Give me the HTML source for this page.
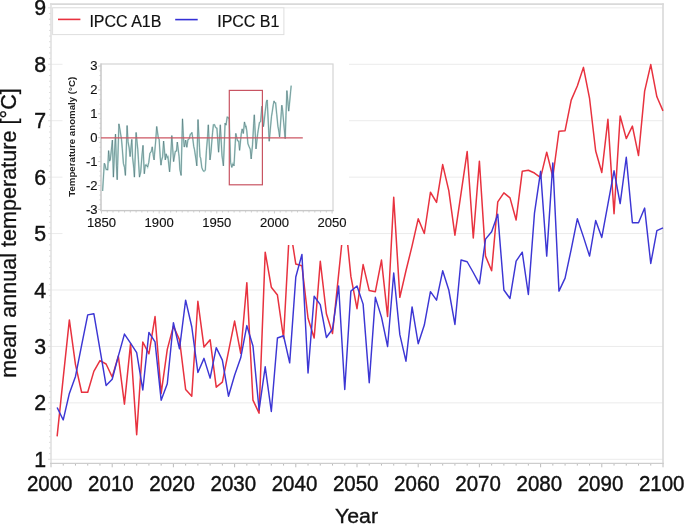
<!DOCTYPE html>
<html><head><meta charset="utf-8"><style>
html,body{margin:0;padding:0;background:#fff;}
body{width:685px;height:524px;overflow:hidden;}
svg{display:block;filter:blur(0.35px);font-family:"Liberation Sans",sans-serif;}
</style></head><body>
<svg width="685" height="524" viewBox="0 0 685 524">
<rect width="685" height="524" fill="#fff"/>
<g stroke="#ebebeb" stroke-width="1"><line x1="51" y1="459.29" x2="663" y2="459.29"/><line x1="51" y1="402.86" x2="663" y2="402.86"/><line x1="51" y1="346.43" x2="663" y2="346.43"/><line x1="51" y1="290" x2="663" y2="290"/><line x1="51" y1="233.57" x2="663" y2="233.57"/><line x1="51" y1="177.14" x2="663" y2="177.14"/><line x1="51" y1="120.71" x2="663" y2="120.71"/><line x1="51" y1="64.28" x2="663" y2="64.28"/><line x1="51" y1="7.85" x2="663" y2="7.85"/></g>
<g stroke="#cfcfcf" stroke-width="0.7"><line x1="48" y1="459.29" x2="51" y2="459.29"/><line x1="49" y1="453.65" x2="51" y2="453.65"/><line x1="49" y1="448" x2="51" y2="448"/><line x1="49" y1="442.36" x2="51" y2="442.36"/><line x1="49" y1="436.72" x2="51" y2="436.72"/><line x1="49" y1="431.08" x2="51" y2="431.08"/><line x1="49" y1="425.43" x2="51" y2="425.43"/><line x1="49" y1="419.79" x2="51" y2="419.79"/><line x1="49" y1="414.15" x2="51" y2="414.15"/><line x1="49" y1="408.5" x2="51" y2="408.5"/><line x1="48" y1="402.86" x2="51" y2="402.86"/><line x1="49" y1="397.22" x2="51" y2="397.22"/><line x1="49" y1="391.57" x2="51" y2="391.57"/><line x1="49" y1="385.93" x2="51" y2="385.93"/><line x1="49" y1="380.29" x2="51" y2="380.29"/><line x1="49" y1="374.65" x2="51" y2="374.65"/><line x1="49" y1="369" x2="51" y2="369"/><line x1="49" y1="363.36" x2="51" y2="363.36"/><line x1="49" y1="357.72" x2="51" y2="357.72"/><line x1="49" y1="352.07" x2="51" y2="352.07"/><line x1="48" y1="346.43" x2="51" y2="346.43"/><line x1="49" y1="340.79" x2="51" y2="340.79"/><line x1="49" y1="335.14" x2="51" y2="335.14"/><line x1="49" y1="329.5" x2="51" y2="329.5"/><line x1="49" y1="323.86" x2="51" y2="323.86"/><line x1="49" y1="318.22" x2="51" y2="318.22"/><line x1="49" y1="312.57" x2="51" y2="312.57"/><line x1="49" y1="306.93" x2="51" y2="306.93"/><line x1="49" y1="301.29" x2="51" y2="301.29"/><line x1="49" y1="295.64" x2="51" y2="295.64"/><line x1="48" y1="290" x2="51" y2="290"/><line x1="49" y1="284.36" x2="51" y2="284.36"/><line x1="49" y1="278.71" x2="51" y2="278.71"/><line x1="49" y1="273.07" x2="51" y2="273.07"/><line x1="49" y1="267.43" x2="51" y2="267.43"/><line x1="49" y1="261.79" x2="51" y2="261.79"/><line x1="49" y1="256.14" x2="51" y2="256.14"/><line x1="49" y1="250.5" x2="51" y2="250.5"/><line x1="49" y1="244.86" x2="51" y2="244.86"/><line x1="49" y1="239.21" x2="51" y2="239.21"/><line x1="48" y1="233.57" x2="51" y2="233.57"/><line x1="49" y1="227.93" x2="51" y2="227.93"/><line x1="49" y1="222.28" x2="51" y2="222.28"/><line x1="49" y1="216.64" x2="51" y2="216.64"/><line x1="49" y1="211" x2="51" y2="211"/><line x1="49" y1="205.35" x2="51" y2="205.35"/><line x1="49" y1="199.71" x2="51" y2="199.71"/><line x1="49" y1="194.07" x2="51" y2="194.07"/><line x1="49" y1="188.43" x2="51" y2="188.43"/><line x1="49" y1="182.78" x2="51" y2="182.78"/><line x1="48" y1="177.14" x2="51" y2="177.14"/><line x1="49" y1="171.5" x2="51" y2="171.5"/><line x1="49" y1="165.85" x2="51" y2="165.85"/><line x1="49" y1="160.21" x2="51" y2="160.21"/><line x1="49" y1="154.57" x2="51" y2="154.57"/><line x1="49" y1="148.92" x2="51" y2="148.92"/><line x1="49" y1="143.28" x2="51" y2="143.28"/><line x1="49" y1="137.64" x2="51" y2="137.64"/><line x1="49" y1="132" x2="51" y2="132"/><line x1="49" y1="126.35" x2="51" y2="126.35"/><line x1="48" y1="120.71" x2="51" y2="120.71"/><line x1="49" y1="115.07" x2="51" y2="115.07"/><line x1="49" y1="109.42" x2="51" y2="109.42"/><line x1="49" y1="103.78" x2="51" y2="103.78"/><line x1="49" y1="98.14" x2="51" y2="98.14"/><line x1="49" y1="92.49" x2="51" y2="92.49"/><line x1="49" y1="86.85" x2="51" y2="86.85"/><line x1="49" y1="81.21" x2="51" y2="81.21"/><line x1="49" y1="75.57" x2="51" y2="75.57"/><line x1="49" y1="69.92" x2="51" y2="69.92"/><line x1="48" y1="64.28" x2="51" y2="64.28"/><line x1="49" y1="58.64" x2="51" y2="58.64"/><line x1="49" y1="52.99" x2="51" y2="52.99"/><line x1="49" y1="47.35" x2="51" y2="47.35"/><line x1="49" y1="41.71" x2="51" y2="41.71"/><line x1="49" y1="36.06" x2="51" y2="36.06"/><line x1="49" y1="30.42" x2="51" y2="30.42"/><line x1="49" y1="24.78" x2="51" y2="24.78"/><line x1="49" y1="19.14" x2="51" y2="19.14"/><line x1="49" y1="13.49" x2="51" y2="13.49"/><line x1="48" y1="7.85" x2="51" y2="7.85"/></g>
<g stroke="#b4b4b4" stroke-width="0.9"><line x1="51" y1="463" x2="51" y2="467.3"/><line x1="63.24" y1="463" x2="63.24" y2="465.6"/><line x1="75.48" y1="463" x2="75.48" y2="465.6"/><line x1="87.72" y1="463" x2="87.72" y2="465.6"/><line x1="99.96" y1="463" x2="99.96" y2="465.6"/><line x1="112.2" y1="463" x2="112.2" y2="467.3"/><line x1="124.44" y1="463" x2="124.44" y2="465.6"/><line x1="136.68" y1="463" x2="136.68" y2="465.6"/><line x1="148.92" y1="463" x2="148.92" y2="465.6"/><line x1="161.16" y1="463" x2="161.16" y2="465.6"/><line x1="173.4" y1="463" x2="173.4" y2="467.3"/><line x1="185.64" y1="463" x2="185.64" y2="465.6"/><line x1="197.88" y1="463" x2="197.88" y2="465.6"/><line x1="210.12" y1="463" x2="210.12" y2="465.6"/><line x1="222.36" y1="463" x2="222.36" y2="465.6"/><line x1="234.6" y1="463" x2="234.6" y2="467.3"/><line x1="246.84" y1="463" x2="246.84" y2="465.6"/><line x1="259.08" y1="463" x2="259.08" y2="465.6"/><line x1="271.32" y1="463" x2="271.32" y2="465.6"/><line x1="283.56" y1="463" x2="283.56" y2="465.6"/><line x1="295.8" y1="463" x2="295.8" y2="467.3"/><line x1="308.04" y1="463" x2="308.04" y2="465.6"/><line x1="320.28" y1="463" x2="320.28" y2="465.6"/><line x1="332.52" y1="463" x2="332.52" y2="465.6"/><line x1="344.76" y1="463" x2="344.76" y2="465.6"/><line x1="357" y1="463" x2="357" y2="467.3"/><line x1="369.24" y1="463" x2="369.24" y2="465.6"/><line x1="381.48" y1="463" x2="381.48" y2="465.6"/><line x1="393.72" y1="463" x2="393.72" y2="465.6"/><line x1="405.96" y1="463" x2="405.96" y2="465.6"/><line x1="418.2" y1="463" x2="418.2" y2="467.3"/><line x1="430.44" y1="463" x2="430.44" y2="465.6"/><line x1="442.68" y1="463" x2="442.68" y2="465.6"/><line x1="454.92" y1="463" x2="454.92" y2="465.6"/><line x1="467.16" y1="463" x2="467.16" y2="465.6"/><line x1="479.4" y1="463" x2="479.4" y2="467.3"/><line x1="491.64" y1="463" x2="491.64" y2="465.6"/><line x1="503.88" y1="463" x2="503.88" y2="465.6"/><line x1="516.12" y1="463" x2="516.12" y2="465.6"/><line x1="528.36" y1="463" x2="528.36" y2="465.6"/><line x1="540.6" y1="463" x2="540.6" y2="467.3"/><line x1="552.84" y1="463" x2="552.84" y2="465.6"/><line x1="565.08" y1="463" x2="565.08" y2="465.6"/><line x1="577.32" y1="463" x2="577.32" y2="465.6"/><line x1="589.56" y1="463" x2="589.56" y2="465.6"/><line x1="601.8" y1="463" x2="601.8" y2="467.3"/><line x1="614.04" y1="463" x2="614.04" y2="465.6"/><line x1="626.28" y1="463" x2="626.28" y2="465.6"/><line x1="638.52" y1="463" x2="638.52" y2="465.6"/><line x1="650.76" y1="463" x2="650.76" y2="465.6"/><line x1="663" y1="463" x2="663" y2="467.3"/></g>
<g fill="none">
<line x1="50" y1="4.1" x2="663.8" y2="4.1" stroke="#d9d9d9" stroke-width="1.6"/>
<line x1="663" y1="3.3" x2="663" y2="463" stroke="#d9d9d9" stroke-width="1.6"/>
<line x1="51" y1="3.3" x2="51" y2="466" stroke="#dedede" stroke-width="1.5"/>
<line x1="50" y1="463.4" x2="663.8" y2="463.4" stroke="#cdcdcd" stroke-width="1.1"/>
</g>
<polyline fill="none" stroke="#e8323f" stroke-width="1.5" stroke-linejoin="round" points="57.12,436.33 63.24,377.57 69.36,319.94 75.48,364.58 81.6,392.27 87.72,392.27 93.84,371.36 99.96,360.62 106.08,364.02 112.2,377.01 118.32,356.11 124.44,404.13 130.56,343.68 136.68,434.64 142.8,341.98 148.92,353.84 155.04,316.56 161.16,393.39 167.28,349.32 173.4,326.16 179.52,339.72 185.64,389.44 191.76,396.22 197.88,301.3 204,347.06 210.12,339.72 216.24,387.18 222.36,382.09 228.48,351.58 234.6,321.07 240.72,353.28 246.84,282.66 252.96,400.18 259.08,413.17 265.2,252.15 271.32,287.18 277.44,295.08 283.56,338.02 289.68,225.02 295.8,264.01 301.92,265.71 308.04,318.25 314.16,338.02 320.28,261.19 326.4,313.73 332.52,333.5 338.64,274.18 344.76,214.85 350.88,276.44 357,308.64 363.12,264.57 369.24,290.56 375.36,291.69 381.48,260.05 387.6,316.56 393.72,197.34 399.84,297.34 405.96,270.79 412.08,245.93 418.2,218.81 424.32,233.5 430.44,192.25 436.56,202.43 442.68,164.57 448.8,190.56 454.92,235.2 461.04,193.38 467.16,151.57 473.28,238.02 479.4,161.18 485.52,256.1 491.64,270.79 497.76,201.86 503.88,192.82 510,197.91 516.12,219.94 522.24,171.35 528.36,170.22 534.48,173.04 540.6,177.56 546.72,152.14 552.84,177 558.96,131.24 565.08,130.67 571.2,100.16 577.32,86.03 583.44,67.39 589.56,98.47 595.68,151.01 601.8,172.48 607.92,119.37 614.04,213.73 620.16,115.98 626.28,138.58 632.4,126.15 638.52,155.53 644.64,91.12 650.76,64.56 656.88,96.77 663,110.9"/>
<polyline fill="none" stroke="#3c36d4" stroke-width="1.45" stroke-linejoin="round" points="57.12,407.52 63.24,419.95 69.36,393.39 75.48,376.44 81.6,345.37 87.72,314.86 93.84,313.73 99.96,349.32 106.08,385.48 112.2,379.27 118.32,356.11 124.44,334.07 130.56,343.11 136.68,352.71 142.8,390 148.92,332.38 155.04,341.98 161.16,400.18 167.28,383.79 173.4,322.77 179.52,348.76 185.64,300.17 191.76,326.73 197.88,372.49 204,358.37 210.12,378.14 216.24,347.63 222.36,360.06 228.48,396.22 234.6,375.31 240.72,357.8 246.84,325.59 252.96,345.94 259.08,409.78 265.2,366.84 271.32,411.48 277.44,338.02 283.56,335.77 289.68,362.88 295.8,277 301.92,254.41 308.04,373.06 314.16,296.21 320.28,304.69 326.4,337.46 332.52,328.98 338.64,286.04 344.76,389.44 350.88,291.13 357,286.04 363.12,304.12 369.24,382.66 375.36,297.34 381.48,317.12 387.6,346.5 393.72,273.05 399.84,334.63 405.96,361.19 412.08,306.95 418.2,343.68 424.32,325.03 430.44,291.69 436.56,300.17 442.68,270.79 448.8,290 454.92,324.46 461.04,260.05 467.16,261.75 473.28,272.49 479.4,283.78 485.52,239.15 491.64,231.8 497.76,214.29 503.88,290 510,298.48 516.12,261.19 522.24,252.15 528.36,294.52 534.48,213.16 540.6,171.35 546.72,256.1 552.84,162.88 558.96,291.13 565.08,278.13 571.2,249.32 577.32,218.81 583.44,236.89 589.56,256.1 595.68,220.5 601.8,237.46 607.92,204.12 614.04,170.78 620.16,203.55 626.28,157.23 632.4,222.76 638.52,222.76 644.64,208.07 650.76,263.45 656.88,230.68 663,227.85"/>
<g font-size="20.5" fill="#111" stroke="#111" stroke-width="0.4"><text transform="translate(46.2,466.79) scale(1.04,1.06)" text-anchor="end">1</text><text transform="translate(46.2,410.36) scale(1.04,1.06)" text-anchor="end">2</text><text transform="translate(46.2,353.93) scale(1.04,1.06)" text-anchor="end">3</text><text transform="translate(46.2,297.5) scale(1.04,1.06)" text-anchor="end">4</text><text transform="translate(46.2,241.07) scale(1.04,1.06)" text-anchor="end">5</text><text transform="translate(46.2,184.64) scale(1.04,1.06)" text-anchor="end">6</text><text transform="translate(46.2,128.21) scale(1.04,1.06)" text-anchor="end">7</text><text transform="translate(46.2,71.78) scale(1.04,1.06)" text-anchor="end">8</text><text transform="translate(46.2,15.35) scale(1.04,1.06)" text-anchor="end">9</text><text transform="translate(49.7,490.6) scale(1,1.05)" text-anchor="middle">2000</text><text transform="translate(110.9,490.6) scale(1,1.05)" text-anchor="middle">2010</text><text transform="translate(172.1,490.6) scale(1,1.05)" text-anchor="middle">2020</text><text transform="translate(233.3,490.6) scale(1,1.05)" text-anchor="middle">2030</text><text transform="translate(294.5,490.6) scale(1,1.05)" text-anchor="middle">2040</text><text transform="translate(355.7,490.6) scale(1,1.05)" text-anchor="middle">2050</text><text transform="translate(416.9,490.6) scale(1,1.05)" text-anchor="middle">2060</text><text transform="translate(478.1,490.6) scale(1,1.05)" text-anchor="middle">2070</text><text transform="translate(539.3,490.6) scale(1,1.05)" text-anchor="middle">2080</text><text transform="translate(600.5,490.6) scale(1,1.05)" text-anchor="middle">2090</text><text transform="translate(661.7,490.6) scale(1,1.05)" text-anchor="middle">2100</text></g>
<text transform="translate(356.5,523.3) scale(1.04,1.03)" font-size="20.5" text-anchor="middle" fill="#111" stroke="#111" stroke-width="0.35">Year</text>
<text transform="translate(16.3,233) rotate(-90)" font-size="21.6" text-anchor="middle" fill="#111" stroke="#111" stroke-width="0.3">mean annual temperature [°C]</text>
<!-- inset -->
<rect x="62.5" y="40" width="286.5" height="205" fill="#fff"/>
<rect x="101" y="64" width="232" height="146.5" fill="none" stroke="#d4d4d4" stroke-width="1.2"/>
<g stroke="#c4c4c4" stroke-width="0.8"><line x1="98" y1="209.4" x2="101" y2="209.4"/><line x1="99.5" y1="204.62" x2="101" y2="204.62"/><line x1="99.5" y1="199.84" x2="101" y2="199.84"/><line x1="99.5" y1="195.06" x2="101" y2="195.06"/><line x1="99.5" y1="190.28" x2="101" y2="190.28"/><line x1="98" y1="185.5" x2="101" y2="185.5"/><line x1="99.5" y1="180.72" x2="101" y2="180.72"/><line x1="99.5" y1="175.94" x2="101" y2="175.94"/><line x1="99.5" y1="171.16" x2="101" y2="171.16"/><line x1="99.5" y1="166.38" x2="101" y2="166.38"/><line x1="98" y1="161.6" x2="101" y2="161.6"/><line x1="99.5" y1="156.82" x2="101" y2="156.82"/><line x1="99.5" y1="152.04" x2="101" y2="152.04"/><line x1="99.5" y1="147.26" x2="101" y2="147.26"/><line x1="99.5" y1="142.48" x2="101" y2="142.48"/><line x1="98" y1="137.7" x2="101" y2="137.7"/><line x1="99.5" y1="132.92" x2="101" y2="132.92"/><line x1="99.5" y1="128.14" x2="101" y2="128.14"/><line x1="99.5" y1="123.36" x2="101" y2="123.36"/><line x1="99.5" y1="118.58" x2="101" y2="118.58"/><line x1="98" y1="113.8" x2="101" y2="113.8"/><line x1="99.5" y1="109.02" x2="101" y2="109.02"/><line x1="99.5" y1="104.24" x2="101" y2="104.24"/><line x1="99.5" y1="99.46" x2="101" y2="99.46"/><line x1="99.5" y1="94.68" x2="101" y2="94.68"/><line x1="98" y1="89.9" x2="101" y2="89.9"/><line x1="99.5" y1="85.12" x2="101" y2="85.12"/><line x1="99.5" y1="80.34" x2="101" y2="80.34"/><line x1="99.5" y1="75.56" x2="101" y2="75.56"/><line x1="99.5" y1="70.78" x2="101" y2="70.78"/><line x1="98" y1="66" x2="101" y2="66"/><line x1="101.5" y1="210.5" x2="101.5" y2="213.5"/><line x1="107.27" y1="210.5" x2="107.27" y2="212.5"/><line x1="113.03" y1="210.5" x2="113.03" y2="212.5"/><line x1="118.8" y1="210.5" x2="118.8" y2="212.5"/><line x1="124.56" y1="210.5" x2="124.56" y2="212.5"/><line x1="130.32" y1="210.5" x2="130.32" y2="212.5"/><line x1="136.09" y1="210.5" x2="136.09" y2="212.5"/><line x1="141.86" y1="210.5" x2="141.86" y2="212.5"/><line x1="147.62" y1="210.5" x2="147.62" y2="212.5"/><line x1="153.38" y1="210.5" x2="153.38" y2="212.5"/><line x1="159.15" y1="210.5" x2="159.15" y2="213.5"/><line x1="164.91" y1="210.5" x2="164.91" y2="212.5"/><line x1="170.68" y1="210.5" x2="170.68" y2="212.5"/><line x1="176.44" y1="210.5" x2="176.44" y2="212.5"/><line x1="182.21" y1="210.5" x2="182.21" y2="212.5"/><line x1="187.98" y1="210.5" x2="187.98" y2="212.5"/><line x1="193.74" y1="210.5" x2="193.74" y2="212.5"/><line x1="199.5" y1="210.5" x2="199.5" y2="212.5"/><line x1="205.27" y1="210.5" x2="205.27" y2="212.5"/><line x1="211.03" y1="210.5" x2="211.03" y2="212.5"/><line x1="216.8" y1="210.5" x2="216.8" y2="213.5"/><line x1="222.56" y1="210.5" x2="222.56" y2="212.5"/><line x1="228.33" y1="210.5" x2="228.33" y2="212.5"/><line x1="234.09" y1="210.5" x2="234.09" y2="212.5"/><line x1="239.86" y1="210.5" x2="239.86" y2="212.5"/><line x1="245.62" y1="210.5" x2="245.62" y2="212.5"/><line x1="251.39" y1="210.5" x2="251.39" y2="212.5"/><line x1="257.15" y1="210.5" x2="257.15" y2="212.5"/><line x1="262.92" y1="210.5" x2="262.92" y2="212.5"/><line x1="268.69" y1="210.5" x2="268.69" y2="212.5"/><line x1="274.45" y1="210.5" x2="274.45" y2="213.5"/><line x1="280.22" y1="210.5" x2="280.22" y2="212.5"/><line x1="285.98" y1="210.5" x2="285.98" y2="212.5"/><line x1="291.75" y1="210.5" x2="291.75" y2="212.5"/><line x1="297.51" y1="210.5" x2="297.51" y2="212.5"/><line x1="303.27" y1="210.5" x2="303.27" y2="212.5"/><line x1="309.04" y1="210.5" x2="309.04" y2="212.5"/><line x1="314.81" y1="210.5" x2="314.81" y2="212.5"/><line x1="320.57" y1="210.5" x2="320.57" y2="212.5"/><line x1="326.34" y1="210.5" x2="326.34" y2="212.5"/><line x1="332.1" y1="210.5" x2="332.1" y2="213.5"/></g>
<line x1="100.4" y1="210.6" x2="333.6" y2="210.6" stroke="#c8c8c8" stroke-width="1.3"/>
<line x1="101" y1="63.4" x2="101" y2="211" stroke="#cccccc" stroke-width="1.3"/>
<polyline fill="none" stroke="#b6ddd7" stroke-width="1.7" stroke-linejoin="miter" stroke-miterlimit="3" points="102.6,191 102.65,190.18 103.81,171.26 104.3,163.27 104.96,164.62 106.11,169.49 107.27,169.33 107.7,170.2 108.42,154.53 108.6,150.61 109.57,160.93 110.3,159.93 110.72,155.96 111.88,145 112.4,140.09 113.03,163.43 113.4,177.13 114.18,158.99 115.34,137.39 115.5,134.11 116.49,166.83 117.2,179.76 117.64,165.29 118.8,127.13 118.9,123.84 119.95,129.6 121.1,136.98 121.5,139.37 122.25,148.24 123.41,163.39 124.56,167.58 125.4,175.46 125.71,166.35 126.87,132.27 127.1,125.51 128.02,141.67 129.17,147.9 130.1,156.58 130.32,154.35 131.48,142.61 131.8,139.37 132.63,157.6 133.78,168.13 134.4,177.13 134.94,162.94 136.09,132.7 136.1,132.44 137.24,143.98 137.8,149.65 138.4,159.35 139.5,177.13 139.55,176.68 140.7,172.11 141.86,156.78 143,145.35 143.01,145.57 144.16,170.73 144.3,173.79 145.31,164.96 146.4,165.18 146.47,164.98 147.62,167.09 148.77,162.38 149.93,153.27 151.08,151.81 151.5,150.61 152.23,146.8 153.38,156.24 154.1,159.93 154.54,154.26 155.69,140.95 156.7,126.47 156.84,127.45 158,135.61 158.4,138.42 159.15,139.31 160.3,157.98 161,165.18 161.46,160.91 162.61,156.74 163.6,141.05 163.76,142.82 164.91,155.6 165.3,159.93 166.07,153.8 167.22,157.46 167.9,156.58 168.37,160.81 169.53,171.25 169.6,171.88 170.68,157.06 171.8,135.55 171.83,135.98 172.99,152.77 173.6,161.6 174.14,158.34 175.29,151.38 175.3,151.32 176.44,151.11 177.3,142 177.6,144.43 178.75,153.75 179.1,156.58 179.9,169.61 181.06,175.08 181.1,175.46 182.21,130.55 182.5,118.82 183.36,135.83 184.2,147.02 184.52,146.49 185.67,140.06 186.82,147.26 187.98,139.6 189.13,138.86 189.4,138.42 190.28,134.32 191.43,133.57 191.9,132.44 192.59,137.01 193.74,146.45 194.5,149.65 194.89,152.41 196.05,159.92 196.8,165.9 197.2,150.45 198,119.54 198.35,126.02 199.5,147.32 200,156.58 200.66,158.28 201.81,167.5 202.96,170.5 204.12,171.39 205.27,170.13 205.3,170.2 206.42,150.66 207.58,136.73 208.3,124.79 208.73,133.68 209.88,157.45 210,159.93 211.03,151.7 212.19,136.78 212.6,132.44 213.34,125.37 213.4,124.79 214.49,124.61 215.65,127.62 216.8,128.04 216.9,128.14 217.95,143.05 218.6,152.28 219.11,144.03 220.26,125.44 220.3,124.79 221.41,144.92 222,155.62 222.56,159.74 223.4,165.9 223.72,157.85 224.87,128.91 225.1,123.12 226.02,125.19 227.18,117.08 228.33,117.44 229.2,119.54 229.48,128.14 230.6,162.56 230.64,162.6 231.79,167.4 232.94,163.79 234,165.9 234.09,164.28 235.25,143.33 235.8,133.4 236.4,136.08 237.55,140.85 238.71,141.01 239.6,150.37 239.86,147.77 241.01,136.29 241.3,133.4 242.17,128.85 243.32,133.52 244.47,121.93 245.62,127.16 246.1,126.47 246.78,130.8 247.93,143.61 249.08,146.63 250.24,149.17 251.2,158.97 251.39,156.26 252.54,144.85 253.7,123.31 254.3,114.76 254.85,125.81 256,148.93 257.15,138.59 257.7,133.64 258.31,129.74 259.46,122.55 260.61,121.64 261.77,107.62 262,106.15 262.92,119.66 263.4,126.71 264.07,121.99 265.23,111.4 266.38,101.92 267.2,99.94 267.53,106.76 268.69,130.74 269.2,141.28 269.84,134.37 270.99,121.94 271.5,116.43 272.14,112.61 273.3,104.63 274.1,100.89 274.45,102.6 275.6,102.82 276.6,113.08 276.76,114.36 277.91,126.19 279.06,132.68 279.6,136.98 280.22,128.02 281.37,111.41 281.8,105.2 282.52,109.48 283.67,122.25 284.83,135.01 285.2,138.66 285.98,115.47 286.9,90.62 287.13,93.24 288.29,106.49 288.7,111.17 289.44,104.23 290.59,91.84 291.2,85.6"/>
<polyline fill="none" stroke="#48666e" stroke-width="0.55" stroke-linejoin="miter" points="102.6,191 102.65,190.18 103.81,171.26 104.3,163.27 104.96,164.62 106.11,169.49 107.27,169.33 107.7,170.2 108.42,154.53 108.6,150.61 109.57,160.93 110.3,159.93 110.72,155.96 111.88,145 112.4,140.09 113.03,163.43 113.4,177.13 114.18,158.99 115.34,137.39 115.5,134.11 116.49,166.83 117.2,179.76 117.64,165.29 118.8,127.13 118.9,123.84 119.95,129.6 121.1,136.98 121.5,139.37 122.25,148.24 123.41,163.39 124.56,167.58 125.4,175.46 125.71,166.35 126.87,132.27 127.1,125.51 128.02,141.67 129.17,147.9 130.1,156.58 130.32,154.35 131.48,142.61 131.8,139.37 132.63,157.6 133.78,168.13 134.4,177.13 134.94,162.94 136.09,132.7 136.1,132.44 137.24,143.98 137.8,149.65 138.4,159.35 139.5,177.13 139.55,176.68 140.7,172.11 141.86,156.78 143,145.35 143.01,145.57 144.16,170.73 144.3,173.79 145.31,164.96 146.4,165.18 146.47,164.98 147.62,167.09 148.77,162.38 149.93,153.27 151.08,151.81 151.5,150.61 152.23,146.8 153.38,156.24 154.1,159.93 154.54,154.26 155.69,140.95 156.7,126.47 156.84,127.45 158,135.61 158.4,138.42 159.15,139.31 160.3,157.98 161,165.18 161.46,160.91 162.61,156.74 163.6,141.05 163.76,142.82 164.91,155.6 165.3,159.93 166.07,153.8 167.22,157.46 167.9,156.58 168.37,160.81 169.53,171.25 169.6,171.88 170.68,157.06 171.8,135.55 171.83,135.98 172.99,152.77 173.6,161.6 174.14,158.34 175.29,151.38 175.3,151.32 176.44,151.11 177.3,142 177.6,144.43 178.75,153.75 179.1,156.58 179.9,169.61 181.06,175.08 181.1,175.46 182.21,130.55 182.5,118.82 183.36,135.83 184.2,147.02 184.52,146.49 185.67,140.06 186.82,147.26 187.98,139.6 189.13,138.86 189.4,138.42 190.28,134.32 191.43,133.57 191.9,132.44 192.59,137.01 193.74,146.45 194.5,149.65 194.89,152.41 196.05,159.92 196.8,165.9 197.2,150.45 198,119.54 198.35,126.02 199.5,147.32 200,156.58 200.66,158.28 201.81,167.5 202.96,170.5 204.12,171.39 205.27,170.13 205.3,170.2 206.42,150.66 207.58,136.73 208.3,124.79 208.73,133.68 209.88,157.45 210,159.93 211.03,151.7 212.19,136.78 212.6,132.44 213.34,125.37 213.4,124.79 214.49,124.61 215.65,127.62 216.8,128.04 216.9,128.14 217.95,143.05 218.6,152.28 219.11,144.03 220.26,125.44 220.3,124.79 221.41,144.92 222,155.62 222.56,159.74 223.4,165.9 223.72,157.85 224.87,128.91 225.1,123.12 226.02,125.19 227.18,117.08 228.33,117.44 229.2,119.54 229.48,128.14 230.6,162.56 230.64,162.6 231.79,167.4 232.94,163.79 234,165.9 234.09,164.28 235.25,143.33 235.8,133.4 236.4,136.08 237.55,140.85 238.71,141.01 239.6,150.37 239.86,147.77 241.01,136.29 241.3,133.4 242.17,128.85 243.32,133.52 244.47,121.93 245.62,127.16 246.1,126.47 246.78,130.8 247.93,143.61 249.08,146.63 250.24,149.17 251.2,158.97 251.39,156.26 252.54,144.85 253.7,123.31 254.3,114.76 254.85,125.81 256,148.93 257.15,138.59 257.7,133.64 258.31,129.74 259.46,122.55 260.61,121.64 261.77,107.62 262,106.15 262.92,119.66 263.4,126.71 264.07,121.99 265.23,111.4 266.38,101.92 267.2,99.94 267.53,106.76 268.69,130.74 269.2,141.28 269.84,134.37 270.99,121.94 271.5,116.43 272.14,112.61 273.3,104.63 274.1,100.89 274.45,102.6 275.6,102.82 276.6,113.08 276.76,114.36 277.91,126.19 279.06,132.68 279.6,136.98 280.22,128.02 281.37,111.41 281.8,105.2 282.52,109.48 283.67,122.25 284.83,135.01 285.2,138.66 285.98,115.47 286.9,90.62 287.13,93.24 288.29,106.49 288.7,111.17 289.44,104.23 290.59,91.84 291.2,85.6"/>
<line x1="101" y1="137.8" x2="302.8" y2="137.8" stroke="#cc5663" stroke-width="1.3"/>
<rect x="229.3" y="90.4" width="33.1" height="94.4" fill="none" stroke="#c85462" stroke-width="1.2"/>
<g font-size="11.9" fill="#111" stroke="#111" stroke-width="0.12"><text transform="translate(97.6,213.6) scale(1.1,1)" text-anchor="end">-3</text><text transform="translate(97.6,189.7) scale(1.1,1)" text-anchor="end">-2</text><text transform="translate(97.6,165.8) scale(1.1,1)" text-anchor="end">-1</text><text transform="translate(97.6,141.9) scale(1.1,1)" text-anchor="end">0</text><text transform="translate(97.6,118) scale(1.1,1)" text-anchor="end">1</text><text transform="translate(97.6,94.1) scale(1.1,1)" text-anchor="end">2</text><text transform="translate(97.6,70.2) scale(1.1,1)" text-anchor="end">3</text><text transform="translate(101.5,226.6) scale(1.1,1)" text-anchor="middle">1850</text><text transform="translate(159.15,226.6) scale(1.1,1)" text-anchor="middle">1900</text><text transform="translate(216.8,226.6) scale(1.1,1)" text-anchor="middle">1950</text><text transform="translate(274.45,226.6) scale(1.1,1)" text-anchor="middle">2000</text><text transform="translate(332.1,226.6) scale(1.1,1)" text-anchor="middle">2050</text></g>
<text transform="translate(75.4,136.8) rotate(-90)" font-size="9.7" font-weight="bold" text-anchor="middle" fill="#222">Temperature anomaly (°C)</text>
<!-- legend -->
<rect x="52.6" y="7.8" width="231.3" height="26.8" fill="#fff" stroke="#dedede" stroke-width="1"/>
<line x1="58" y1="19.4" x2="80.4" y2="19.4" stroke="#e8323f" stroke-width="1.6"/>
<text x="89.4" y="26.8" font-size="16" fill="#111" stroke="#111" stroke-width="0.2">IPCC A1B</text>
<line x1="175.2" y1="19.6" x2="197.7" y2="19.6" stroke="#3430d6" stroke-width="1.6"/>
<text x="217.2" y="26.8" font-size="16" fill="#111" stroke="#111" stroke-width="0.2">IPCC B1</text>
</svg>
</body></html>
